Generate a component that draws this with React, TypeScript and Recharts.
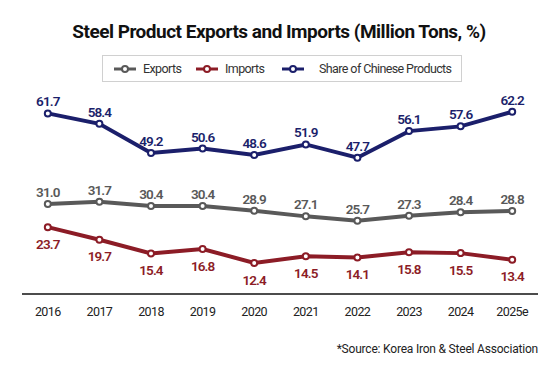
import React from 'react'
import { LineChart, Line, XAxis, YAxis, LabelList } from 'recharts'

/* data */
const years = ['2016', '2017', '2018', '2019', '2020', '2021', '2022', '2023', '2024', '2025e']
const exportsMt = [31.0, 31.7, 30.4, 30.4, 28.9, 27.1, 25.7, 27.3, 28.4, 28.8]
const importsMt = [23.7, 19.7, 15.4, 16.8, 12.4, 14.5, 14.1, 15.8, 15.5, 13.4]
const chinaShare = [61.7, 58.4, 49.2, 50.6, 48.6, 51.9, 47.7, 56.1, 57.6, 62.2]

const rows = years.map((year, i) => ({
  year,
  exports: exportsMt[i],
  imports: importsMt[i],
  share: chinaShare[i],
}))

const GRAY = '#595959'
const RED = '#8c1c26'
const BLUE = '#1b1f6b'
const FONT = 'Roboto, "DejaVu Sans", sans-serif'

const fmt = (v: any) => Number(v).toFixed(1)

const LABEL_STYLE = { fontSize: 13.5, fontWeight: 600, fontFamily: FONT, letterSpacing: -0.9 }

function LegendItem({ color, label, x, gap = 6 }: { color: string; label: string; x: number; gap?: number }) {
  return (
    <div style={{ position: 'absolute', left: x, top: 6, display: 'flex', alignItems: 'center', whiteSpace: 'nowrap' }}>
      <svg width={24} height={10} style={{ marginRight: gap }}>
        <line x1={1} y1={5} x2={23} y2={5} stroke={color} strokeWidth={3} />
        <circle cx={12} cy={5} r={3} fill="#fff" stroke={color} strokeWidth={2} />
      </svg>
      <span>{label}</span>
    </div>
  )
}

export default function App() {
  return (
    <div style={{ position: 'fixed', left: 0, top: 0, width: 560, height: 365, background: '#fff', fontFamily: FONT }}>
      <div style={{ position: 'absolute', top: 20, left: 0, width: 558, textAlign: 'center', fontSize: 19, fontWeight: 700, color: '#111', letterSpacing: -0.5 }}>
        Steel Product Exports and Imports (Million Tons, %)
      </div>
      <div
        style={{
          position: 'absolute', left: 102, top: 55, width: 358, height: 25,
          border: '1px solid #d0d0d0', fontSize: 12.5, color: '#333', lineHeight: '14px', letterSpacing: -0.6,
        }}
      >
        <LegendItem color={GRAY} label="Exports" x={10} />
        <LegendItem color={RED} label="Imports" x={92} />
        <LegendItem color={BLUE} label="Share of Chinese Products" x={178} gap={14} />
      </div>

      <div style={{ position: 'absolute', left: 0, top: 0 }}>
        <LineChart width={560} height={365} data={rows} margin={{ top: 95, right: 22, bottom: 41, left: 22 }}>
          <XAxis
            dataKey="year"
            padding={{ left: 0, right: 0 }}
            axisLine={{ stroke: '#111', strokeWidth: 1.5 }}
            tickLine={false}
            tick={{ fill: '#222', fontSize: 12.5, fontFamily: FONT, letterSpacing: -0.6 }}
            tickMargin={7}
            interval={0}
            scale="band"
          />
          <YAxis yAxisId="mt" hide domain={[2.6, 65.4]} />
          <YAxis yAxisId="pct" hide orientation="right" domain={[4.7, 67.5]} />

          <Line yAxisId="pct" dataKey="share" stroke={BLUE} strokeWidth={4} isAnimationActive={false}
            dot={{ r: 3, fill: '#fff', stroke: BLUE, strokeWidth: 2 }}>
            <LabelList dataKey="share" position="top" offset={7} formatter={fmt} fill={BLUE} style={LABEL_STYLE} />
          </Line>
          <Line yAxisId="mt" dataKey="exports" stroke={GRAY} strokeWidth={4} isAnimationActive={false}
            dot={{ r: 3, fill: '#fff', stroke: GRAY, strokeWidth: 2 }}>
            <LabelList dataKey="exports" position="top" offset={7} formatter={fmt} fill={GRAY} style={LABEL_STYLE} />
          </Line>
          <Line yAxisId="mt" dataKey="imports" stroke={RED} strokeWidth={4} isAnimationActive={false}
            dot={{ r: 3, fill: '#fff', stroke: RED, strokeWidth: 2 }}>
            <LabelList dataKey="imports" position="bottom" offset={12} formatter={fmt} fill={RED} style={LABEL_STYLE} />
          </Line>
        </LineChart>
      </div>

      <div style={{ position: 'absolute', right: 22, top: 342, fontSize: 12, color: '#222', letterSpacing: -0.2 }}>
        *Source: Korea Iron &amp; Steel Association
      </div>
    </div>
  )
}
